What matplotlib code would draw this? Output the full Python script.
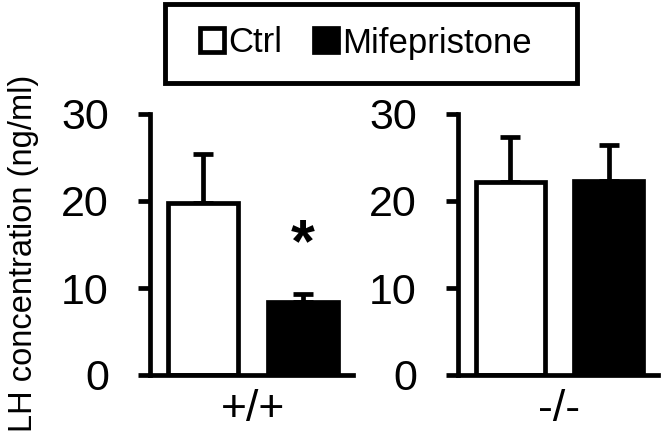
import numpy as np
import matplotlib
matplotlib.use('Agg')
import matplotlib.pyplot as plt
from matplotlib.patches import Patch, Rectangle

plt.rcParams['font.family'] = ['Liberation Sans', 'DejaVu Sans']

genotypes = ['+/+', '-/-']
groups = ['Ctrl', 'Mifepristone']
ctrl_mean = [19.8, 22.2]
ctrl_err = [5.6, 5.1]
mife_mean = [8.4, 22.3]
mife_err = [0.95, 4.1]
signif = ['*', '']

W, H = 664, 438
LW = 3.4

fig = plt.figure(figsize=(W / 100, H / 100), dpi=100)

panels = [(150, 353), (458, 658)]
x = np.arange(2)

for i, (x0, x1) in enumerate(panels):
	ax = fig.add_axes([x0 / W, 63 / H, (x1 - x0) / W, 261 / H])
	means = [ctrl_mean[i], mife_mean[i]]
	errs = [ctrl_err[i], mife_err[i]]
	ax.errorbar(x, means, yerr=[np.zeros(2), errs], fmt='none', ecolor='black',
				elinewidth=LW, capsize=7.2, capthick=LW, zorder=1)
	ax.bar(x, means, width=0.7, color=['white', 'black'], edgecolor='black',
		   linewidth=LW, zorder=2)
	if signif[i]:
		ax.text(1, means[1] + errs[1] + 5.5, signif[i], ha='center', va='center',
				fontsize=44, fontweight='bold')
	ax.set_xlim(-0.53, 1.5)
	ax.set_ylim(0, 30)
	ax.set_yticks([0, 10, 20, 30])
	ax.set_xticks([0.5])
	ax.set_xticklabels([genotypes[i]])
	for s in ['top', 'right']:
		ax.spines[s].set_visible(False)
	for s in ['left', 'bottom']:
		ax.spines[s].set_linewidth(LW)
	ax.tick_params(axis='y', length=8.6, width=LW, pad=21, labelsize=31)
	ax.tick_params(axis='x', length=0, pad=10, labelsize=32)
	ax.patch.set_alpha(0)

fig.text(24 / W, 1 - 253 / H, 'LH concentration (ng/ml)', rotation=90,
		 ha='center', va='center', fontsize=23.5)

handles = [Patch(facecolor='white', edgecolor='black', linewidth=LW),
		   Patch(facecolor='black', edgecolor='black', linewidth=LW)]
fig.legend(handles, groups, loc='center', bbox_to_anchor=(366 / W, 1 - 43 / H),
		   ncol=2, frameon=False, fontsize=25,
		   handlelength=0.69, handleheight=0.69, handletextpad=0.12, columnspacing=0.9)
fig.add_artist(Rectangle((165 / W, 1 - 83 / H), 412 / W, 79 / H, transform=fig.transFigure,
						 fill=False, linewidth=3.5, edgecolor='black'))

fig.savefig('out.png', dpi=100)
